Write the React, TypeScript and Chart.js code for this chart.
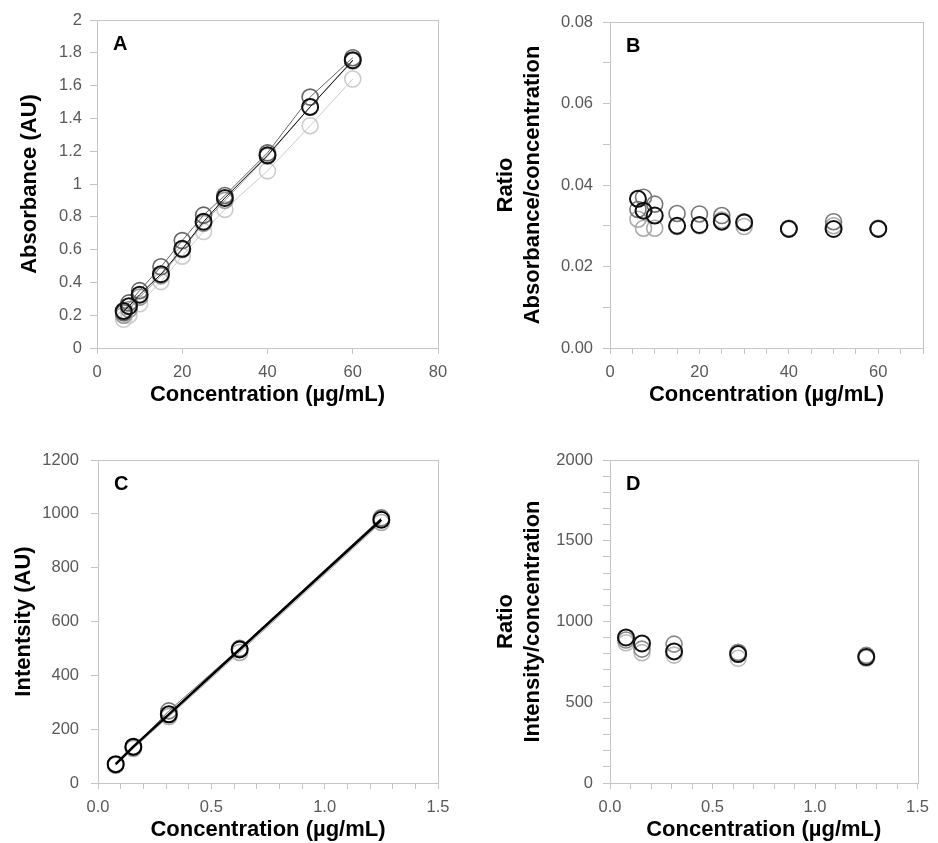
import React, { useEffect, useRef } from 'react';
import { Chart, registerables } from 'chart.js';

Chart.register(...registerables);

const FONT = '"Liberation Sans", Arial, Helvetica, sans-serif';

// ---------- Panel A : absorbance vs concentration ----------
const concA = [6.25, 7.5, 10, 15, 20, 25, 30, 40, 50, 60];
const absA1 = [0.225, 0.255, 0.325, 0.45, 0.605, 0.77, 0.915, 1.175, 1.47, 1.755];
const absA2 = [0.215, 0.275, 0.35, 0.495, 0.655, 0.81, 0.93, 1.19, 1.53, 1.77];
const absA3 = [0.2, 0.235, 0.31, 0.44, 0.6, 0.76, 0.9, 1.17, 1.47, 1.75];
const absA4 = [0.175, 0.2, 0.27, 0.405, 0.56, 0.71, 0.845, 1.08, 1.355, 1.64];

// ---------- Panel B : ratio absorbance/concentration ----------
const ratioB1 = [0.0366, 0.0337, 0.0325, 0.03, 0.0302, 0.031, 0.0308, 0.0292, 0.0292, 0.0292];
const ratioB2 = [0.034, 0.037, 0.0353, 0.033, 0.0329, 0.0325, 0.031, 0.0294, 0.031, 0.0294];
const ratioB3 = [0.0316, 0.0294, 0.0294, 0.0298, 0.03, 0.0314, 0.0298, 0.0293, 0.03, 0.0293];

// ---------- Panel C : intensity vs concentration ----------
const concC = [0.078, 0.156, 0.3125, 0.625, 1.25];
const intC1 = [70, 135, 255, 496, 978];
const intC2 = [68, 132, 268, 500, 985];
const intC3 = [66, 128, 247, 485, 968];

// ---------- Panel D : ratio intensity/concentration ----------
const ratioD1 = [901, 864, 815, 798, 780];
const ratioD2 = [885, 829, 860, 809, 790];
const ratioD3 = [868, 807, 792, 772, 772];

const xTitle = 'Concentration (µg/mL)';

type DS = { x: number[]; y: number[]; color: string; line: number; pw: number };

type PanelSpec = {
  letter: string;
  canvas: [number, number, number, number]; // left, top, width, height
  area: [number, number, number, number]; // left, top, right, bottom
  x: { min: number; max: number; step: number; every: number; dec: number | null };
  y: { min: number; max: number; step: number; every: number; dec: number | null };
  yTitle: string | string[];
  yTitlePad: number;
  xTitlePad: number;
  yTickPad: number;
  xTickPad: number;
  series: DS[];
};

const fmt = (v: number, every: number, dec: number | null) => {
  const r = v / every;
  if (Math.abs(r - Math.round(r)) > 1e-6) return '';
  return dec === null ? String(Math.round(v * 1000) / 1000) : v.toFixed(dec);
};

const GRID = '#c4c4c4';
const TICK_COLOR = '#595959';

const framePlugin = {
  id: 'frame',
  beforeDatasetsDraw(chart: any) {
    const { ctx, chartArea: a } = chart;
    ctx.save();
    ctx.strokeStyle = GRID;
    ctx.lineWidth = 1;
    ctx.strokeRect(Math.round(a.left) + 0.5, Math.round(a.top) + 0.5, Math.round(a.right - a.left), Math.round(a.bottom - a.top));
    ctx.restore();
  },
  afterDraw(chart: any) {
    const { ctx, chartArea: a } = chart;
    const letter = chart.options.plugins.frame.letter;
    ctx.save();
    ctx.fillStyle = '#000';
    ctx.font = `bold 20px ${FONT}`;
    ctx.textBaseline = 'alphabetic';
    ctx.textAlign = 'left';
    ctx.fillText(letter, a.left + 16, a.top + 30);
    ctx.restore();
  },
};

function Panel({ spec }: { spec: PanelSpec }) {
  const ref = useRef<HTMLCanvasElement>(null);
  useEffect(() => {
    const [cl, ct, cw, ch] = spec.canvas;
    const [al, at, ar, ab] = spec.area;
    const chart = new Chart(ref.current as HTMLCanvasElement, {
      type: 'scatter',
      data: {
        datasets: spec.series.map((s) => ({
          data: s.x.map((xv, i) => ({ x: xv, y: s.y[i] })),
          showLine: s.line > 0,
          borderColor: s.color,
          borderWidth: s.line,
          pointRadius: 8,
          pointHoverRadius: 8,
          pointBorderWidth: s.pw,
          pointBorderColor: s.color,
          pointBackgroundColor: 'rgba(0,0,0,0)',
          backgroundColor: 'rgba(0,0,0,0)',
        })),
      },
      options: {
        responsive: false,
        animation: false,
        devicePixelRatio: 1,
        events: [],
        layout: { padding: { left: 0, top: at - ct, right: cl + cw - ar, bottom: 0 } },
        plugins: {
          legend: { display: false },
          tooltip: { enabled: false },
          // @ts-ignore
          frame: { letter: spec.letter },
        },
        scales: {
          x: {
            type: 'linear',
            min: spec.x.min,
            max: spec.x.max,
            afterFit: (sc: any) => {
              sc.height = ct + ch - ab;
            },
            ticks: {
              stepSize: spec.x.step,
              autoSkip: false,
              maxRotation: 0,
              padding: spec.xTickPad,
              color: TICK_COLOR,
              font: { family: FONT, size: 16.5 },
              callback: (v: any) => fmt(Number(v), spec.x.every, spec.x.dec),
            },
            grid: { drawOnChartArea: false, drawTicks: true, tickLength: 6, color: GRID },
            border: { display: true, color: GRID },
            title: {
              display: true,
              text: xTitle,
              color: '#000',
              font: { family: FONT, size: 22, weight: 'bold' },
              padding: { top: 0, bottom: spec.xTitlePad },
            },
          },
          y: {
            type: 'linear',
            min: spec.y.min,
            max: spec.y.max,
            afterFit: (sc: any) => {
              sc.width = al - cl;
            },
            ticks: {
              stepSize: spec.y.step,
              autoSkip: false,
              padding: spec.yTickPad,
              color: TICK_COLOR,
              font: { family: FONT, size: 16.5 },
              callback: (v: any) => fmt(Number(v), spec.y.every, spec.y.dec),
            },
            grid: { drawOnChartArea: false, drawTicks: true, tickLength: 7, color: GRID },
            border: { display: true, color: GRID },
            title: {
              display: true,
              text: spec.yTitle,
              color: '#000',
              font: { family: FONT, size: 22, weight: 'bold' },
              padding: { top: spec.yTitlePad, bottom: 0 },
            },
          },
        },
      },
      plugins: [framePlugin],
    } as any);
    return () => chart.destroy();
  }, [spec]);
  const [cl, ct, cw, ch] = spec.canvas;
  return (
    <canvas
      ref={ref}
      width={cw}
      height={ch}
      style={{ position: 'absolute', left: cl, top: ct, width: cw, height: ch }}
    />
  );
}

const panels: PanelSpec[] = [
  {
    letter: 'A',
    canvas: [0, 0, 469, 421],
    area: [97, 20, 438, 348],
    x: { min: 0, max: 80, step: 20, every: 20, dec: null },
    y: { min: 0, max: 2, step: 0.2, every: 0.2, dec: null },
    yTitle: 'Absorbance (AU)',
    yTitlePad: 17,
    xTitlePad: 13,
    yTickPad: 8,
    xTickPad: 9,
    series: [
      { x: concA, y: absA1, color: '#111111', line: 1, pw: 2 },
      { x: concA, y: absA2, color: '#666666', line: 1, pw: 1.6 },
      { x: concA, y: absA3, color: '#999999', line: 1, pw: 1.6 },
      { x: concA, y: absA4, color: '#cccccc', line: 1, pw: 1.6 },
    ],
  },
  {
    letter: 'B',
    canvas: [469, 0, 469, 421],
    area: [610, 22, 923, 348],
    x: { min: 0, max: 70, step: 5, every: 20, dec: null },
    y: { min: 0, max: 0.08, step: 0.01, every: 0.02, dec: 2 },
    yTitle: ['Ratio', 'Absorbance/concentration'],
    yTitlePad: 24,
    xTitlePad: 13,
    yTickPad: 10,
    xTickPad: 9,
    series: [
      { x: concA, y: ratioB1, color: '#111111', line: 0, pw: 2 },
      { x: concA, y: ratioB2, color: '#777777', line: 0, pw: 1.6 },
      { x: concA, y: ratioB3, color: '#aaaaaa', line: 0, pw: 1.6 },
    ],
  },
  {
    letter: 'C',
    canvas: [0, 421, 469, 422],
    area: [98, 460, 438, 783],
    x: { min: 0, max: 1.5, step: 0.1, every: 0.5, dec: 1 },
    y: { min: 0, max: 1200, step: 200, every: 200, dec: null },
    yTitle: 'Intentsity (AU)',
    yTitlePad: 11,
    xTitlePad: 0,
    yTickPad: 12,
    xTickPad: 9,
    series: [
      { x: concC, y: intC1, color: '#000000', line: 2.5, pw: 2 },
      { x: concC, y: intC2, color: '#777777', line: 1, pw: 1.6 },
      { x: concC, y: intC3, color: '#aaaaaa', line: 1, pw: 1.6 },
    ],
  },
  {
    letter: 'D',
    canvas: [469, 421, 469, 422],
    area: [610, 460, 923, 783],
    x: { min: 0, max: 1.5, step: 0.1, every: 0.5, dec: 1 },
    y: { min: 0, max: 2000, step: 100, every: 500, dec: null },
    yTitle: ['Ratio', 'Intensity/concentration'],
    yTitlePad: 24,
    xTitlePad: 0,
    yTickPad: 10,
    xTickPad: 9,
    series: [
      { x: concC, y: ratioD1, color: '#111111', line: 0, pw: 2 },
      { x: concC, y: ratioD2, color: '#888888', line: 0, pw: 1.6 },
      { x: concC, y: ratioD3, color: '#bbbbbb', line: 0, pw: 1.6 },
    ],
  },
];

export default function App() {
  return (
    <div
      style={{
        position: 'fixed',
        left: 0,
        top: 0,
        width: 938,
        height: 843,
        background: '#ffffff',
        overflow: 'hidden',
      }}
    >
      {panels.map((p) => (
        <Panel key={p.letter} spec={p} />
      ))}
    </div>
  );
}
